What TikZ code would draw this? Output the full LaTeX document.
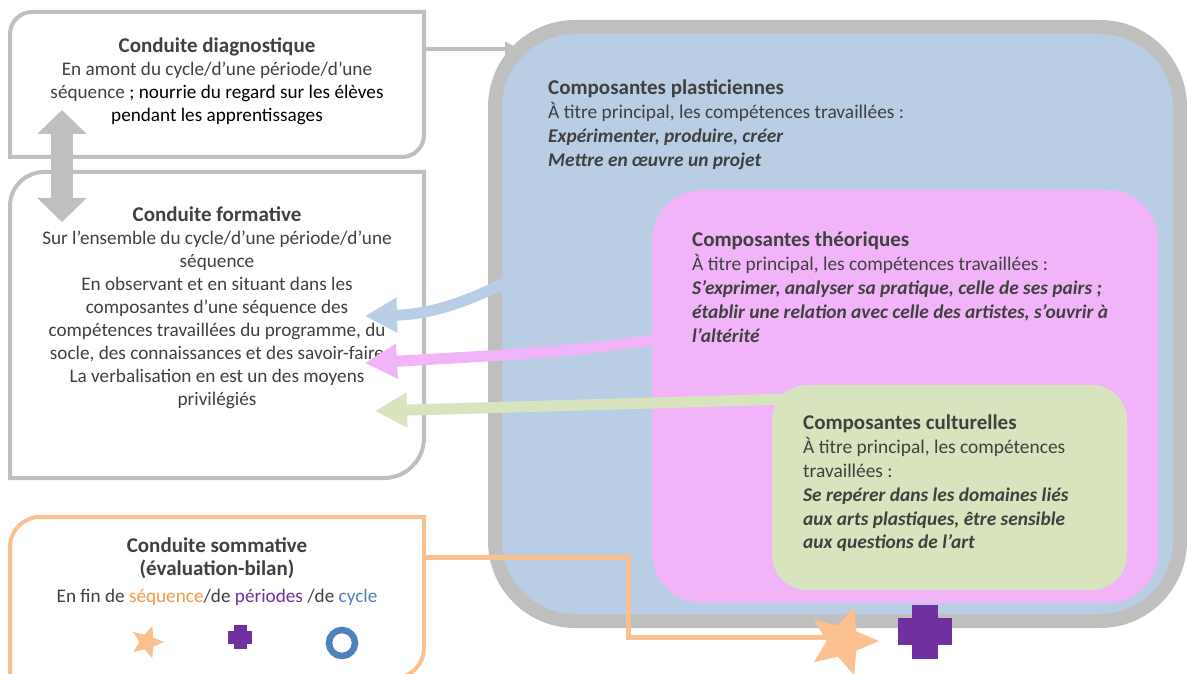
\documentclass[tikz,border=0pt]{standalone}
\usepackage{fontspec}
\setmainfont{Carlito}
\usetikzlibrary{arrows.meta,calc,shapes.geometric}
\definecolor{gborder}{HTML}{BFBFBF}
\definecolor{bluefill}{HTML}{B9CDE5}
\definecolor{pinkfill}{HTML}{F2B4F9}
\definecolor{greenfill}{HTML}{D7E4BD}
\definecolor{orangel}{HTML}{FAC090}
\definecolor{purp}{HTML}{7030A0}
\definecolor{ringblue}{HTML}{4F81BD}
\definecolor{txt}{HTML}{404040}
\definecolor{seqor}{HTML}{F79646}
\newcommand\ttlf{\fontsize{21}{23}\selectfont\bfseries}
\newcommand\ttlr{\fontsize{21}{23.8}\selectfont\bfseries}
% box with rounded top-left and bottom-right corners
\newcommand\halfround[4]{%
\draw[#1] (#2.south west) -- ($(#2.north west)+(0,#3)$)
 .. controls ($(#2.north west)+(0,0.448*#3)$) and ($(#2.north west)+(0.448*#3,0)$) .. ($(#2.north west)+(#3,0)$)
 -- (#2.north east) -- ($(#2.south east)+(0,-#4)$)
 .. controls ($(#2.south east)+(0,-0.448*#4)$) and ($(#2.south east)+(-0.448*#4,0)$) .. ($(#2.south east)+(-#4,0)$)
 -- cycle;}
\begin{document}
\begin{tikzpicture}[x=1pt,y=-1pt,
 frame/.style={anchor=north west, inner sep=0pt, outer sep=0pt, draw=none},
 ctext/.style={font=\fontsize{19.2}{23}\selectfont, text=txt, align=center, inner sep=0pt, anchor=north},
 ltext/.style={font=\fontsize{19.4}{23.8}\selectfont, text=txt, align=left, inner sep=0pt, anchor=north west},
 fat/.style={line width=11pt, -{Triangle[width=33pt,length=32pt]}},
 starshape/.style={star, star points=5, star point ratio=2.2, shape border rotate=-90, fill=orangel, inner sep=0pt},
]
\useasboundingbox (0,0) rectangle (1187,674);
\clip (0,0) rectangle (1187,674);
\fill[white] (0,0) rectangle (1187,674);

% big composite box
\node[frame, draw=gborder, line width=14pt, fill=bluefill, rounded corners=80pt,
 minimum width=685pt, minimum height=594pt] (big) at (495,27) {};
\node[frame, fill=pinkfill, rounded corners=50pt, minimum width=506pt, minimum height=413pt] (pink) at (652,190) {};
\node[frame, fill=greenfill, rounded corners=35pt, minimum width=355pt, minimum height=205pt] (green) at (772,385) {};

% left frames
\node[frame, minimum width=414pt, minimum height=145pt] (diag) at (10,12) {};
\node[frame, minimum width=414pt, minimum height=306pt] (form) at (10,172) {};
\node[frame, minimum width=414pt, minimum height=161pt] (somm) at (10,517) {};
\halfround{draw=gborder, line width=4pt, fill=white}{diag}{22}{22}
\halfround{draw=gborder, line width=4pt, fill=white}{form}{34}{40}
\halfround{draw=orangel, line width=4pt, fill=white}{somm}{30}{30}

% texts
\node[ctext] (diagT) at (217,38) {{\ttlf Conduite diagnostique}\\
En amont du cycle/d’une période/d’une\\
séquence {\color{black}; nourrie du regard sur les élèves}\\
{\color{black}pendant les apprentissages}};

\node[ctext] (formT) at (217,207) {{\ttlf Conduite formative}\\
Sur l’ensemble du cycle/d’une période/d’une\\
séquence\\
En observant et en situant dans les\\
composantes d’une séquence des\\
compétences travaillées du programme, du\\
socle, des connaissances et des savoir-faire\\
La verbalisation en est un des moyens\\
privilégiés};

\node[ctext] (sommT) at (217,538) {{\ttlf Conduite sommative}\\
{\ttlf (évaluation-bilan)}\\[4pt]
En fin de {\color{seqor}séquence}/de {\color{purp}périodes} /de {\color{ringblue}cycle}};

\node[ltext] (plasT) at (548,80) {{\ttlr Composantes plasticiennes}\\
À titre principal, les compétences travaillées :\\
\textbf{\textit{Expérimenter, produire, créer}}\\
\textbf{\textit{Mettre en œuvre un projet}}};

\node[ltext] (theoT) at (692,232) {{\ttlr Composantes théoriques}\\
À titre principal, les compétences travaillées :\\
\textbf{\textit{S’exprimer, analyser sa pratique, celle de ses pairs ;}}\\
\textbf{\textit{établir une relation avec celle des artistes, s’ouvrir à}}\\
\textbf{\textit{l’altérité}}};

\node[ltext] (cultT) at (803,415) {{\ttlr Composantes culturelles}\\
À titre principal, les compétences\\
travaillées :\\
\textbf{\textit{Se repérer dans les domaines liés}}\\
\textbf{\textit{aux arts plastiques, être sensible}}\\
\textbf{\textit{aux questions de l’art}}};

% connector coordinates
\coordinate (bigentry) at (519,49);
\coordinate (dtop) at (62,110);
\coordinate (fbot) at (62,222);
\coordinate (bluestart) at (545,262);
\coordinate (bluetip) at (365,316);
\coordinate (pinkstart) at (662,339);
\coordinate (pinktip) at (365,363);
\coordinate (greenstart) at (790,399);
\coordinate (greentip) at (375,411);
\coordinate (starc) at (843,641);

% diag -> big
\draw[gborder, line width=4pt, -{Triangle[width=14pt,length=14pt]}]
 ($(diag.north east)+(0,37)$) -- (bigentry);
% diag <-> form
\draw[gborder, line width=22pt, {Triangle[width=48pt,length=24pt]}-{Triangle[width=48pt,length=24pt]}]
 (dtop) -- (fbot);
% component arrows
\draw[fat, bluefill] (bluestart) .. controls (480,297) and (440,314) .. (bluetip);
\draw[fat, pinkfill] (pinkstart) .. controls (560,352) .. (pinktip);
\draw[fat, greenfill] (greenstart) -- (greentip);

% sommative symbols
\node[starshape, minimum size=34pt] (s1) at (147,642) {};
\coordinate (s2) at (240,637);
\fill[purp] ($(s2)+(-12,-6.5)$) rectangle ($(s2)+(12,6.5)$);
\fill[purp] ($(s2)+(-6.5,-12)$) rectangle ($(s2)+(6.5,12)$);
\node[circle, draw=ringblue, line width=6.5pt, minimum size=26pt, inner sep=0pt] (s3) at (342,643) {};

% orange connector to big star
\draw[orangel, line width=5pt] ($(somm.north east)+(0,40)$) -- (628,557) |- ($(starc)+(0,-4)$);
\node[starshape, minimum size=72pt] (bigstar) at (starc) {};
\coordinate (bigplus) at (925,631.5);
\fill[purp] ($(bigplus)+(-27,-13.5)$) rectangle ($(bigplus)+(27,13.5)$);
\fill[purp] ($(bigplus)+(-13,-27)$) rectangle ($(bigplus)+(13,27)$);
\end{tikzpicture}
\end{document}
